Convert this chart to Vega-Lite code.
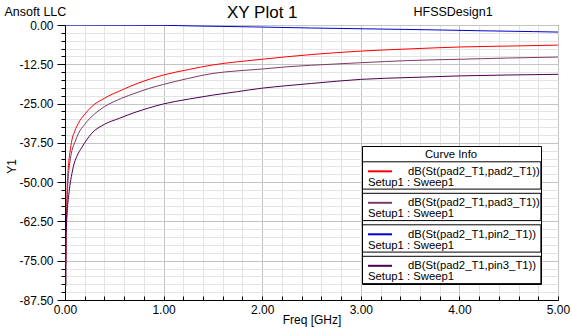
{
  "$schema": "https://vega.github.io/schema/vega-lite/v6.json",
  "width": 493,
  "height": 275,
  "autosize": {"type": "none"},
  "padding": {"left": 65, "top": 25, "right": 14, "bottom": 36},
  "background": "white",
  "config": {
    "font": "Liberation Sans",
    "view": {"stroke": "black", "strokeWidth": 1},
    "axis": {"domainColor": "black", "tickColor": "black", "labelColor": "black", "titleColor": "black", "titleFontWeight": "normal", "labelFont": "Liberation Sans", "titleFont": "Liberation Sans"}
  },
  "title": {"text": "XY Plot 1", "anchor": "start", "frame": "group", "dx": 162, "dy": 17, "offset": 0, "fontSize": 17, "fontWeight": "normal", "font": "Liberation Sans", "color": "black"},
  "datasets": {
    "curves": [
      {"s": "dB(St(pad2_T1,pad2_T1))", "f": 0.01, "dB": -76},
      {"s": "dB(St(pad2_T1,pad2_T1))", "f": 0.015, "dB": -62},
      {"s": "dB(St(pad2_T1,pad2_T1))", "f": 0.02, "dB": -54},
      {"s": "dB(St(pad2_T1,pad2_T1))", "f": 0.03, "dB": -47},
      {"s": "dB(St(pad2_T1,pad2_T1))", "f": 0.04, "dB": -43},
      {"s": "dB(St(pad2_T1,pad2_T1))", "f": 0.05, "dB": -40.5},
      {"s": "dB(St(pad2_T1,pad2_T1))", "f": 0.07, "dB": -36.6},
      {"s": "dB(St(pad2_T1,pad2_T1))", "f": 0.1, "dB": -33.7},
      {"s": "dB(St(pad2_T1,pad2_T1))", "f": 0.135, "dB": -31.3},
      {"s": "dB(St(pad2_T1,pad2_T1))", "f": 0.2, "dB": -28.4},
      {"s": "dB(St(pad2_T1,pad2_T1))", "f": 0.27, "dB": -26},
      {"s": "dB(St(pad2_T1,pad2_T1))", "f": 0.4, "dB": -23.3},
      {"s": "dB(St(pad2_T1,pad2_T1))", "f": 0.575, "dB": -20.7},
      {"s": "dB(St(pad2_T1,pad2_T1))", "f": 0.75, "dB": -18.4},
      {"s": "dB(St(pad2_T1,pad2_T1))", "f": 1.0, "dB": -15.9},
      {"s": "dB(St(pad2_T1,pad2_T1))", "f": 1.25, "dB": -14.2},
      {"s": "dB(St(pad2_T1,pad2_T1))", "f": 1.5, "dB": -12.7},
      {"s": "dB(St(pad2_T1,pad2_T1))", "f": 1.75, "dB": -11.7},
      {"s": "dB(St(pad2_T1,pad2_T1))", "f": 2.0, "dB": -10.9},
      {"s": "dB(St(pad2_T1,pad2_T1))", "f": 2.25, "dB": -10.1},
      {"s": "dB(St(pad2_T1,pad2_T1))", "f": 2.5, "dB": -9.4},
      {"s": "dB(St(pad2_T1,pad2_T1))", "f": 2.75, "dB": -8.8},
      {"s": "dB(St(pad2_T1,pad2_T1))", "f": 3.0, "dB": -8.3},
      {"s": "dB(St(pad2_T1,pad2_T1))", "f": 3.5, "dB": -7.6},
      {"s": "dB(St(pad2_T1,pad2_T1))", "f": 4.0, "dB": -7.0},
      {"s": "dB(St(pad2_T1,pad2_T1))", "f": 4.5, "dB": -6.7},
      {"s": "dB(St(pad2_T1,pad2_T1))", "f": 5.0, "dB": -6.4},
      {"s": "dB(St(pad2_T1,pad3_T1))", "f": 0.01, "dB": -83},
      {"s": "dB(St(pad2_T1,pad3_T1))", "f": 0.015, "dB": -66},
      {"s": "dB(St(pad2_T1,pad3_T1))", "f": 0.02, "dB": -58},
      {"s": "dB(St(pad2_T1,pad3_T1))", "f": 0.03, "dB": -50},
      {"s": "dB(St(pad2_T1,pad3_T1))", "f": 0.04, "dB": -46},
      {"s": "dB(St(pad2_T1,pad3_T1))", "f": 0.05, "dB": -43.5},
      {"s": "dB(St(pad2_T1,pad3_T1))", "f": 0.07, "dB": -40},
      {"s": "dB(St(pad2_T1,pad3_T1))", "f": 0.1, "dB": -37.3},
      {"s": "dB(St(pad2_T1,pad3_T1))", "f": 0.135, "dB": -34.6},
      {"s": "dB(St(pad2_T1,pad3_T1))", "f": 0.2, "dB": -31.6},
      {"s": "dB(St(pad2_T1,pad3_T1))", "f": 0.3, "dB": -28.3},
      {"s": "dB(St(pad2_T1,pad3_T1))", "f": 0.4, "dB": -26},
      {"s": "dB(St(pad2_T1,pad3_T1))", "f": 0.575, "dB": -23.3},
      {"s": "dB(St(pad2_T1,pad3_T1))", "f": 0.71, "dB": -21.7},
      {"s": "dB(St(pad2_T1,pad3_T1))", "f": 0.85, "dB": -20.2},
      {"s": "dB(St(pad2_T1,pad3_T1))", "f": 1.0, "dB": -18.9},
      {"s": "dB(St(pad2_T1,pad3_T1))", "f": 1.25, "dB": -17},
      {"s": "dB(St(pad2_T1,pad3_T1))", "f": 1.5, "dB": -15.4},
      {"s": "dB(St(pad2_T1,pad3_T1))", "f": 1.75, "dB": -14.6},
      {"s": "dB(St(pad2_T1,pad3_T1))", "f": 2.0, "dB": -14.0},
      {"s": "dB(St(pad2_T1,pad3_T1))", "f": 2.25, "dB": -13.3},
      {"s": "dB(St(pad2_T1,pad3_T1))", "f": 2.5, "dB": -12.8},
      {"s": "dB(St(pad2_T1,pad3_T1))", "f": 2.75, "dB": -12.4},
      {"s": "dB(St(pad2_T1,pad3_T1))", "f": 3.0, "dB": -12.0},
      {"s": "dB(St(pad2_T1,pad3_T1))", "f": 3.5, "dB": -11.3},
      {"s": "dB(St(pad2_T1,pad3_T1))", "f": 4.0, "dB": -10.9},
      {"s": "dB(St(pad2_T1,pad3_T1))", "f": 4.5, "dB": -10.5},
      {"s": "dB(St(pad2_T1,pad3_T1))", "f": 5.0, "dB": -10.2},
      {"s": "dB(St(pad2_T1,pin2_T1))", "f": 0.01, "dB": 0},
      {"s": "dB(St(pad2_T1,pin2_T1))", "f": 1.0, "dB": -0.1},
      {"s": "dB(St(pad2_T1,pin2_T1))", "f": 1.3, "dB": -0.3},
      {"s": "dB(St(pad2_T1,pin2_T1))", "f": 1.9, "dB": -0.6},
      {"s": "dB(St(pad2_T1,pin2_T1))", "f": 2.5, "dB": -0.95},
      {"s": "dB(St(pad2_T1,pin2_T1))", "f": 3.05, "dB": -1.22},
      {"s": "dB(St(pad2_T1,pin2_T1))", "f": 3.65, "dB": -1.5},
      {"s": "dB(St(pad2_T1,pin2_T1))", "f": 4.25, "dB": -1.85},
      {"s": "dB(St(pad2_T1,pin2_T1))", "f": 4.75, "dB": -2.1},
      {"s": "dB(St(pad2_T1,pin2_T1))", "f": 5.0, "dB": -2.25},
      {"s": "dB(St(pad2_T1,pin3_T1))", "f": 0.01, "dB": -66},
      {"s": "dB(St(pad2_T1,pin3_T1))", "f": 0.02, "dB": -60},
      {"s": "dB(St(pad2_T1,pin3_T1))", "f": 0.035, "dB": -55},
      {"s": "dB(St(pad2_T1,pin3_T1))", "f": 0.05, "dB": -51},
      {"s": "dB(St(pad2_T1,pin3_T1))", "f": 0.07, "dB": -47.3},
      {"s": "dB(St(pad2_T1,pin3_T1))", "f": 0.085, "dB": -45},
      {"s": "dB(St(pad2_T1,pin3_T1))", "f": 0.12, "dB": -41.8},
      {"s": "dB(St(pad2_T1,pin3_T1))", "f": 0.17, "dB": -39},
      {"s": "dB(St(pad2_T1,pin3_T1))", "f": 0.27, "dB": -34.5},
      {"s": "dB(St(pad2_T1,pin3_T1))", "f": 0.4, "dB": -31.6},
      {"s": "dB(St(pad2_T1,pin3_T1))", "f": 0.55, "dB": -29.7},
      {"s": "dB(St(pad2_T1,pin3_T1))", "f": 0.71, "dB": -27.8},
      {"s": "dB(St(pad2_T1,pin3_T1))", "f": 0.85, "dB": -26.4},
      {"s": "dB(St(pad2_T1,pin3_T1))", "f": 1.0, "dB": -25.1},
      {"s": "dB(St(pad2_T1,pin3_T1))", "f": 1.25, "dB": -23.6},
      {"s": "dB(St(pad2_T1,pin3_T1))", "f": 1.5, "dB": -22.3},
      {"s": "dB(St(pad2_T1,pin3_T1))", "f": 1.75, "dB": -21.2},
      {"s": "dB(St(pad2_T1,pin3_T1))", "f": 2.0, "dB": -20.1},
      {"s": "dB(St(pad2_T1,pin3_T1))", "f": 2.25, "dB": -19.3},
      {"s": "dB(St(pad2_T1,pin3_T1))", "f": 2.5, "dB": -18.6},
      {"s": "dB(St(pad2_T1,pin3_T1))", "f": 2.75, "dB": -17.9},
      {"s": "dB(St(pad2_T1,pin3_T1))", "f": 3.0, "dB": -17.3},
      {"s": "dB(St(pad2_T1,pin3_T1))", "f": 3.5, "dB": -16.7},
      {"s": "dB(St(pad2_T1,pin3_T1))", "f": 4.0, "dB": -16.2},
      {"s": "dB(St(pad2_T1,pin3_T1))", "f": 4.5, "dB": -15.9},
      {"s": "dB(St(pad2_T1,pin3_T1))", "f": 5.0, "dB": -15.7}
    ]
  },
  "data": {"name": "curves"},
  "layer": [
    {
      "mark": {"type": "line", "strokeWidth": 1, "interpolate": "monotone", "clip": true},
      "encoding": {
        "x": {
          "field": "f", "type": "quantitative",
          "scale": {"domain": [0, 5], "nice": false, "zero": false},
          "axis": {
            "orient": "bottom",
            "values": [0,0.2,0.4,0.6,0.8,1,1.2,1.4,1.6,1.8,2,2.2,2.4,2.6,2.8,3,3.2,3.4,3.6,3.8,4,4.2,4.4,4.6,4.8,5],
            "labelExpr": "datum.value % 1 == 0 ? format(datum.value, '.2f') : ''",
            "labelFlush": false, "labelOverlap": false, "labelFontSize": 12, "labelPadding": 8, "labelBaseline": "top",
            "tickSize": -4, "grid": true,
            "gridColor": {"condition": {"test": "datum.value % 1 == 0", "value": "#c4c4c4"}, "value": "#e4e4e4"},
            "title": "Freq [GHz]", "titleFontSize": 12, "titleX": 246.5, "titleY": 19, "titleBaseline": "middle", "titleAlign": "center"
          }
        },
        "y": {
          "field": "dB", "type": "quantitative",
          "scale": {"domain": [-87.5, 0], "nice": false, "zero": false},
          "axis": {
            "orient": "left",
            "values": [0,-2.5,-5,-7.5,-10,-12.5,-15,-17.5,-20,-22.5,-25,-27.5,-30,-32.5,-35,-37.5,-40,-42.5,-45,-47.5,-50,-52.5,-55,-57.5,-60,-62.5,-65,-67.5,-70,-72.5,-75,-77.5,-80,-82.5,-85,-87.5],
            "labelExpr": "datum.value % 12.5 == 0 ? (datum.value < 0 ? '-' : '') + format(abs(datum.value), '.2f') : ''",
            "labelFlush": false, "labelOverlap": false, "labelFontSize": 12, "labelPadding": 4, "labelBaseline": "middle",
            "tickSize": {"condition": {"test": "datum.value % 12.5 == 0", "value": 8}, "value": 4},
            "grid": true,
            "gridColor": {"condition": {"test": "datum.value % 12.5 == 0", "value": "#c4c4c4"}, "value": "#e4e4e4"},
            "title": "Y1", "titleFontSize": 12, "titleX": -54, "titleY": 141, "titleAngle": -90, "titleBaseline": "middle", "titleAlign": "center"
          }
        },
        "color": {
          "field": "s", "type": "nominal",
          "scale": {
            "domain": ["dB(St(pad2_T1,pad2_T1))", "dB(St(pad2_T1,pad3_T1))", "dB(St(pad2_T1,pin2_T1))", "dB(St(pad2_T1,pin3_T1))"],
            "range": ["#ff0000", "#7e3a62", "#0000d0", "#4e0050"]
          },
          "legend": {
            "orient": "none", "legendX": 297, "legendY": 121,
            "title": "Curve Info", "titleFontSize": 11.3, "titleFontWeight": "normal", "titleColor": "black", "titleAnchor": "middle", "titleAlign": "center", "titlePadding": 4,
            "fillColor": "white", "strokeColor": "black", "padding": 0,
            "symbolType": "stroke", "symbolStrokeWidth": 2, "symbolSize": 576, "symbolOffset": 5,
            "labelFontSize": 11.3, "labelColor": "black", "labelLimit": 300, "labelOffset": -25,
            "labelExpr": "['\u2800\u2800\u2800\u2800\u2800' + datum.label, 'Setup1 : Sweep1']",
            "rowPadding": 3.5,
            "encode": {
              "title": {"update": {"dy": {"value": 3}}},
              "symbols": {"update": {"y": {"value": 10}}},
              "labels": {"update": {"y": {"value": 10.5}, "lineHeight": {"value": 11}}},
              "entries": {"update": {"stroke": {"value": "black"}, "strokeWidth": {"value": 1}, "width": {"value": 174}, "height": {"value": 30}}}
            }
          }
        }
      }
    },
    {
      "mark": {"type": "point", "opacity": 0},
      "encoding": {
        "x": {
          "field": "f", "type": "quantitative",
          "scale": {"domain": [0, 5], "nice": false, "zero": false},
          "axis": {"orient": "top", "domain": false, "ticks": false, "labels": false, "grid": false,
            "title": "Ansoft LLC", "titleFontSize": 12.5, "titleX": -61, "titleY": -10, "titleAlign": "left", "titleBaseline": "alphabetic"}
        },
        "y": {
          "field": "dB", "type": "quantitative",
          "scale": {"domain": [-87.5, 0], "nice": false, "zero": false},
          "axis": {"orient": "right", "domain": false, "ticks": false, "labels": false, "grid": false,
            "title": "HFSSDesign1", "titleFontSize": 12.5, "titleX": -145, "titleY": -10, "titleAngle": 0, "titleAlign": "left", "titleBaseline": "alphabetic"}
        }
      }
    }
  ],
  "resolve": {"scale": {"x": "independent", "y": "independent"}, "axis": {"x": "independent", "y": "independent"}}
}
